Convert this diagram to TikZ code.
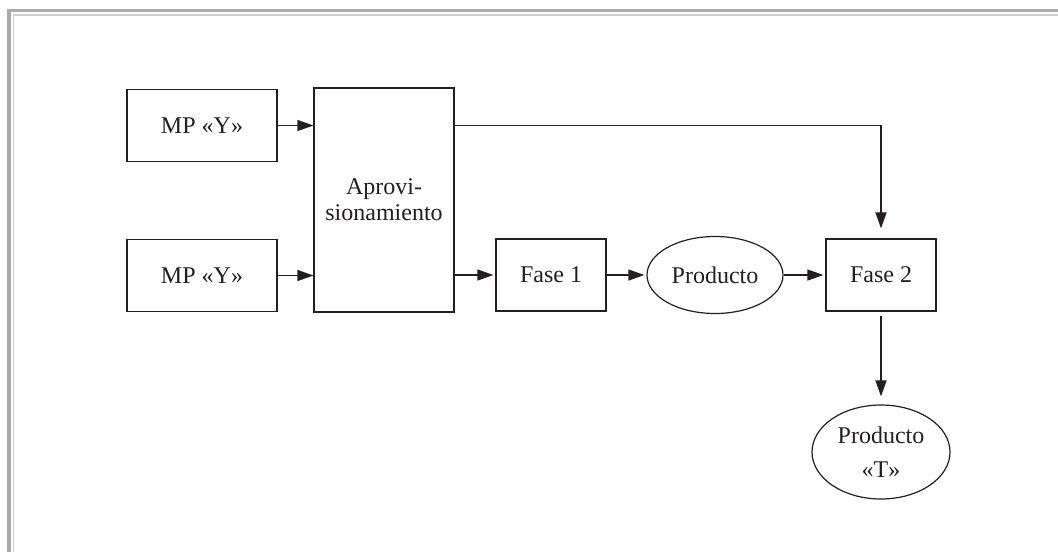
\documentclass[tikz,border=0pt]{standalone}
\usepackage{fontspec}
\setmainfont{Liberation Serif}
\usepackage{tikz}
\usetikzlibrary{arrows.meta}
\usetikzlibrary{shapes.geometric}
\definecolor{ink}{RGB}{35,31,32}
\definecolor{frameout}{RGB}{170,170,172}
\definecolor{framein}{RGB}{205,205,207}

\begin{document}
\begin{tikzpicture}[x=0.5pt, y=-0.5pt,
        every node/.style={font=\fontsize{12}{13}\selectfont, text=ink},
        caja/.style={draw=ink, line width=0.6pt, inner sep=0pt, align=center},
        elipse/.style={draw=ink, line width=0.6pt, ellipse, inner sep=0pt, align=center},
        flecha/.style={draw=ink, line width=0.6pt, -{Triangle[length=8pt, width=5.5pt]}}]
        \useasboundingbox (0,0) rectangle (1058,552);
        % marco
        \draw [frameout, line width=1.6pt] (9,552) -- (9,10.7) -- (1058,10.7);
        \draw [framein, line width=0.8pt] (13.5,552) -- (13.5,14.7) -- (1058,14.7);
        % nodos
        \node [caja, minimum width=75pt, minimum height=36pt] (mpA) at (202,125.5) {MP «Y»};
        \node [caja, minimum width=75pt, minimum height=36pt] (mpB) at (202,275.5) {MP «Y»};
        \node [caja, minimum width=70pt, minimum height=112pt] (aprov) at (384,200) {Aprovi-\\sionamiento};
        \node [caja, minimum width=55pt, minimum height=36pt] (faseA) at (551,275) {Fase 1};
        \node [elipse, minimum width=68pt, minimum height=38.5pt] (prod) at (715,275) {Producto};
        \node [caja, minimum width=55pt, minimum height=36pt] (faseB) at (881,275) {Fase 2};
        \node [elipse, minimum width=69pt, minimum height=47pt,
               font=\fontsize{12}{17}\selectfont] (prodT) at (881,452) {Producto\\«T»};
        % conexiones
        \draw [flecha] (mpA.east) -- (mpA.east -| aprov.west);
        \draw [flecha] (mpB.east) -- (mpB.east -| aprov.west);
        \draw [flecha, shorten >=1pt] (aprov.east |- faseA.west) -- (faseA.west);
        \draw [flecha, shorten >=1pt] (faseA.east) -- (prod.west);
        \draw [flecha, shorten >=1pt] (prod.east) -- (faseB.west);
        \draw [flecha, shorten >=5pt] (aprov.east |- mpA.east) -| (faseB.north);
        \draw [flecha, shorten <=2pt, shorten >=4pt] (faseB.south) -- (prodT.north);
    \end{tikzpicture}
\end{document}
